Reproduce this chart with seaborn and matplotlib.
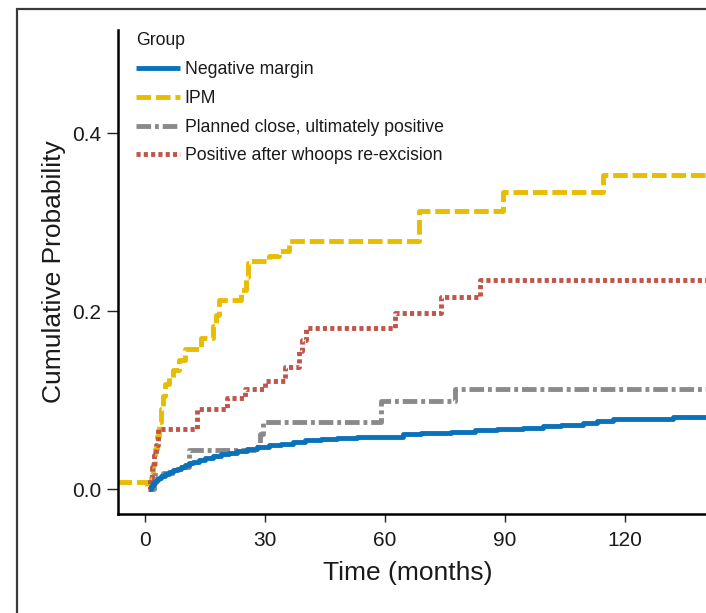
import matplotlib
matplotlib.use("Agg")
import matplotlib.pyplot as plt
from matplotlib.lines import Line2D
import seaborn as sns
import pandas as pd

# ---- data ----
groups = ["Negative margin", "IPM", "Planned close, ultimately positive",
          "Positive after whoops re-excision"]

neg_t = [1.0, 1.5, 2.0, 2.5, 3.0, 3.5, 4.0, 5.0, 6.0, 7.0, 8.0, 9.0, 10.0, 11.0, 12.0,
         13.5, 15.0, 17.0, 19.0, 21.0, 23.0, 25.5, 28.0, 31.0, 34.0, 37.0, 40.0, 44.0,
         48.0, 53.0, 58.0, 64.5, 69.0, 76.5, 82.5, 88.0, 94.5, 99.5, 104.0, 109.5,
         113.0, 117.0, 132.0, 142.0]
neg_v = [0.0, 0.004, 0.007, 0.009, 0.011, 0.013, 0.015, 0.017, 0.019, 0.021, 0.023,
         0.025, 0.027, 0.029, 0.031, 0.033, 0.035, 0.037, 0.039, 0.041, 0.043, 0.045,
         0.047, 0.049, 0.051, 0.053, 0.055, 0.056, 0.057, 0.058, 0.059, 0.062, 0.063,
         0.064, 0.066, 0.067, 0.069, 0.071, 0.072, 0.074, 0.077, 0.079, 0.081, 0.081]

ipm_t = [-7.0, 0.5, 1.5, 2.0, 2.5, 3.0, 3.5, 4.0, 4.5, 5.0, 6.0, 7.0, 8.5, 10.0, 14.0,
         17.0, 17.8, 18.5, 24.0, 25.3, 25.8, 26.3, 31.0, 33.5, 36.0, 68.5, 89.5, 114.5,
         142.0]
ipm_v = [0.008, 0.0, 0.012, 0.028, 0.045, 0.06, 0.075, 0.09, 0.105, 0.118, 0.126,
         0.134, 0.145, 0.158, 0.17, 0.183, 0.196, 0.212, 0.224, 0.238, 0.254, 0.256,
         0.262, 0.268, 0.279, 0.313, 0.334, 0.353, 0.353]

pc_t = [1.0, 2.2, 4.5, 8.0, 11.0, 28.3, 28.8, 29.4, 59.0, 77.5, 142.0]
pc_v = [0.0, 0.016, 0.018, 0.025, 0.044, 0.052, 0.062, 0.075, 0.099, 0.113, 0.113]

pw_t = [0.8, 1.3, 1.8, 2.3, 2.8, 3.3, 13.0, 20.5, 25.0, 30.0, 35.0, 38.5, 39.2, 40.2,
        62.5, 74.0, 83.8, 142.0]
pw_v = [0.0, 0.012, 0.025, 0.038, 0.05, 0.068, 0.09, 0.102, 0.112, 0.122, 0.137,
        0.155, 0.168, 0.181, 0.198, 0.216, 0.235, 0.235]

x_ticks = [0, 30, 60, 90, 120]
y_ticks = [0.0, 0.2, 0.4]
y_ticklabels = ["0.0", "0.2", "0.4"]

# ---- styling ----
colors = {groups[0]: "#0A72BA", groups[1]: "#E8BC00",
          groups[2]: "#8A8A8A", groups[3]: "#C0564B"}
dashes = {groups[0]: "", groups[1]: (3.0, 1.0),
          groups[2]: (3.0, 0.8, 0.8, 0.8), groups[3]: (0.85, 0.65)}

frames = []
for g, t, v in zip(groups, [neg_t, ipm_t, pc_t, pw_t], [neg_v, ipm_v, pc_v, pw_v]):
    frames.append(pd.DataFrame({"time": t, "prob": v, "Group": g}))
df = pd.concat(frames, ignore_index=True)

sns.set_theme(style="white")
plt.rcParams["font.family"] = ["Liberation Sans", "DejaVu Sans"]

W, H = 706, 613
fig = plt.figure(figsize=(W / 100, H / 100), dpi=100)
ax = fig.add_axes([118 / W, 1 - 514 / H, 1 - 118 / W, (514 - 30) / H])

sns.lineplot(data=df, x="time", y="prob", hue="Group", style="Group",
             hue_order=groups, style_order=groups, palette=colors, dashes=dashes,
             estimator=None, sort=True, drawstyle="steps-post", linewidth=3.5,
             legend=False, ax=ax)
for ln in ax.lines:
    ln.set_dash_capstyle("butt")
    ln.set_solid_capstyle("butt")
order = {groups[0]: 5, groups[1]: 2, groups[2]: 3, groups[3]: 4}
for ln, g in zip(ax.lines, groups):
    ln.set_zorder(order[g])

ax.set_xlim(-6.75, 140.25)
ax.set_ylim(-0.028, 0.516)
ax.set_xticks(x_ticks)
ax.set_xticklabels([str(x) for x in x_ticks])
ax.set_yticks(y_ticks)
ax.set_yticklabels(y_ticklabels)

for s in ["top", "right"]:
    ax.spines[s].set_visible(False)
for s in ["left", "bottom"]:
    ax.spines[s].set_color("black")
    ax.spines[s].set_linewidth(1.8)

ax.tick_params(axis="x", which="major", direction="out", length=6, width=1.0,
               color="#222222", labelcolor="#1a1a1a", labelsize=15, pad=6.5, bottom=True)
ax.tick_params(axis="y", which="major", direction="out", length=8, width=1.0,
               color="#222222", labelcolor="#1a1a1a", labelsize=15, pad=4, left=True)

ax.set_xlabel("Time (months)", fontsize=19, color="#1a1a1a")
ax.set_ylabel("Cumulative Probability", fontsize=19, color="#1a1a1a")
ax.xaxis.set_label_coords((408 - 118) / 588, (514 - 561) / 484)
ax.yaxis.set_label_coords((66 - 118) / 588, 0.50)

handles = []
for g in groups:
    if dashes[g]:
        handles.append(Line2D([], [], color=colors[g], linewidth=3.5, dashes=dashes[g],
                              dash_capstyle="butt"))
    else:
        handles.append(Line2D([], [], color=colors[g], linewidth=3.5, linestyle="-",
                              solid_capstyle="butt"))
leg = ax.legend(handles, groups, title="Group", loc="upper left",
                bbox_to_anchor=(136 / W, 1 - 32 / H), bbox_transform=fig.transFigure,
                frameon=False, fontsize=12.7, title_fontsize=12.7, borderpad=0,
                borderaxespad=0, handlelength=2.5, handletextpad=0.25,
                labelspacing=0.66, alignment="left")
for txt in leg.get_texts():
    txt.set_color("#1a1a1a")
leg.get_title().set_color("#1a1a1a")
leg._legend_box.sep = 9

# figure frame (left and top edges visible)
fig.add_artist(Line2D([16.5 / W, 16.5 / W], [0, 1 - 9 / H], transform=fig.transFigure,
                      color="#3a3a3a", linewidth=1.6))
fig.add_artist(Line2D([16.5 / W, 1.0], [1 - 9 / H, 1 - 9 / H], transform=fig.transFigure,
                      color="#3a3a3a", linewidth=1.6))

fig.savefig("out.png", dpi=100)
